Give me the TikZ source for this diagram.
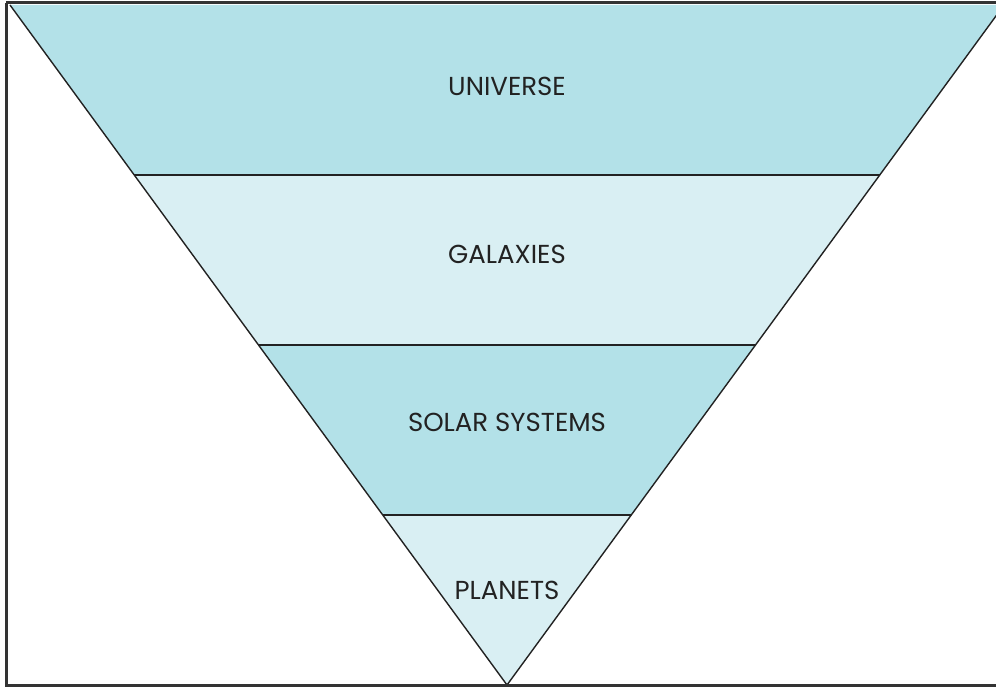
\documentclass[tikz,border=0pt]{standalone}
\usepackage{fontspec}
\setmainfont{Poppins}
\usetikzlibrary{positioning,calc}
\definecolor{darkband}{HTML}{B3E1E8}
\definecolor{lightband}{HTML}{D9EFF3}
\definecolor{frame}{HTML}{333333}
\definecolor{ink}{HTML}{222222}
\tikzset{
  label/.style={font=\fontsize{26}{30}\selectfont, text=ink, anchor=center},
  edge/.style={line width=1.4pt, ink}
}
\begin{document}
\begin{tikzpicture}[x=1pt, y=-1pt]
    \useasboundingbox (0,0) rectangle (996,687);
    \clip (0,0) rectangle (996,687);

    % Corners of the funnel
    \coordinate (tl) at (10,5);
    \coordinate (tr) at (1004,5);
    \coordinate (apex) at (507,685);

    % Band edges on the left and right side
    \coordinate (l1) at (134,175);  \coordinate (r1) at (880,175);
    \coordinate (l2) at (258.5,345); \coordinate (r2) at (755.5,345);
    \coordinate (l3) at (383,515);  \coordinate (r3) at (631,515);

    % Universe
    \fill[darkband] (tl) -- (tr) -- (r1) -- (l1) -- cycle;
    % Galaxies
    \fill[lightband] (l1) -- (r1) -- (r2) -- (l2) -- cycle;
    % Solar systems
    \fill[darkband] (l2) -- (r2) -- (r3) -- (l3) -- cycle;
    % Planets
    \fill[lightband] (l3) -- (r3) -- (apex) -- cycle;

    % Borders
    \draw[edge] (tl) -- (apex) -- (tr);
    \draw[edge] (l1) -- (r1);
    \draw[edge] (l2) -- (r2);
    \draw[edge] (l3) -- (r3);

    % Labels
    \node[label] (universe) at (507,86) {UNIVERSE};
    \node[label] (galaxies) at (507,254) {GALAXIES};
    \node[label] (solar) at (507,422) {SOLAR SYSTEMS};
    \node[label] (planets) at (507,590) {PLANETS};

    % Outer frame
    \draw[frame, line width=3pt] (6,3) -- (1010,3);
    \draw[frame, line width=3pt] (6,3) -- (6,685) -- (1010,685);
\end{tikzpicture}
\end{document}
